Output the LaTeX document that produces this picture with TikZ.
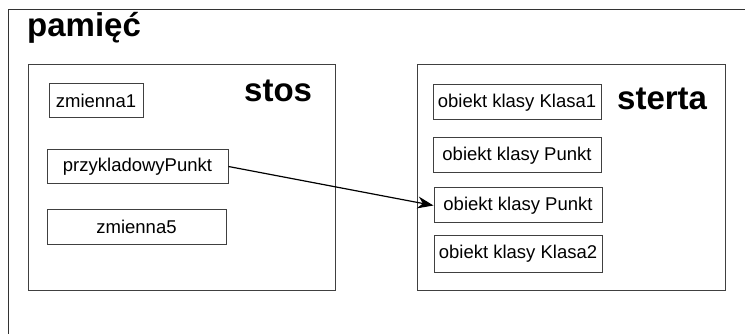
\documentclass[tikz,border=0pt]{standalone}
\usepackage{fontspec}
\setmainfont{Liberation Sans}
\usetikzlibrary{arrows.meta}

\begin{document}
\begin{tikzpicture}[
      x = 1pt, y = -1pt,
      every node/.style = {inner sep = 0pt},
      item/.style = {draw = black!75, line width = 1pt, rectangle, minimum height = 34pt,
            font = \fontsize{18.5}{21}\selectfont},
      area/.style = {draw = black!75, line width = 1pt, rectangle, minimum width = 307pt, minimum height = 225pt},
      title/.style = {anchor = base west, font = \fontsize{33}{36}\selectfont\bfseries}
      ]
      \useasboundingbox (0,0) rectangle (745,334);
      \draw[black!80, line width = 1pt] (8,334) -- (8,10) -- (745,10);
      \node[title] (pamiec) at (27,37) {pamięć};

      \node[area] (stos) at (181.5,177.5) {};
      \node[title] (stoslabel) at (244,102) {stos};
      \node[item, minimum width = 94pt] (zmienna1) at (96,100.5) {zmienna1};
      \node[item, minimum width = 181pt] (punktref) at (137.5,166.5) {przykladowyPunkt};
      \node[item, minimum width = 179pt] (zmienna5) at (136.5,227) {zmienna5};

      \node[area, minimum width = 308pt] (sterta) at (571,177.5) {};
      \node[title] (stertalabel) at (617,110) {sterta};
      \node[item, minimum width = 168pt, minimum height = 35pt] (klasa1) at (517,102.5) {obiekt klasy Klasa1};
      \node[item, minimum width = 168pt, minimum height = 35pt] (punkt1) at (517,155.5) {obiekt klasy Punkt};
      \node[item, minimum width = 168pt, minimum height = 35pt] (punkt2) at (518,205.5) {obiekt klasy Punkt};
      \node[item, minimum width = 168pt, minimum height = 36pt] (klasa2) at (518,254) {obiekt klasy Klasa2};

      \draw[line width = 1.2pt, -{Stealth[length = 16pt, width = 12pt]}] (punktref.east) -- (punkt2.west);
\end{tikzpicture}
\end{document}
